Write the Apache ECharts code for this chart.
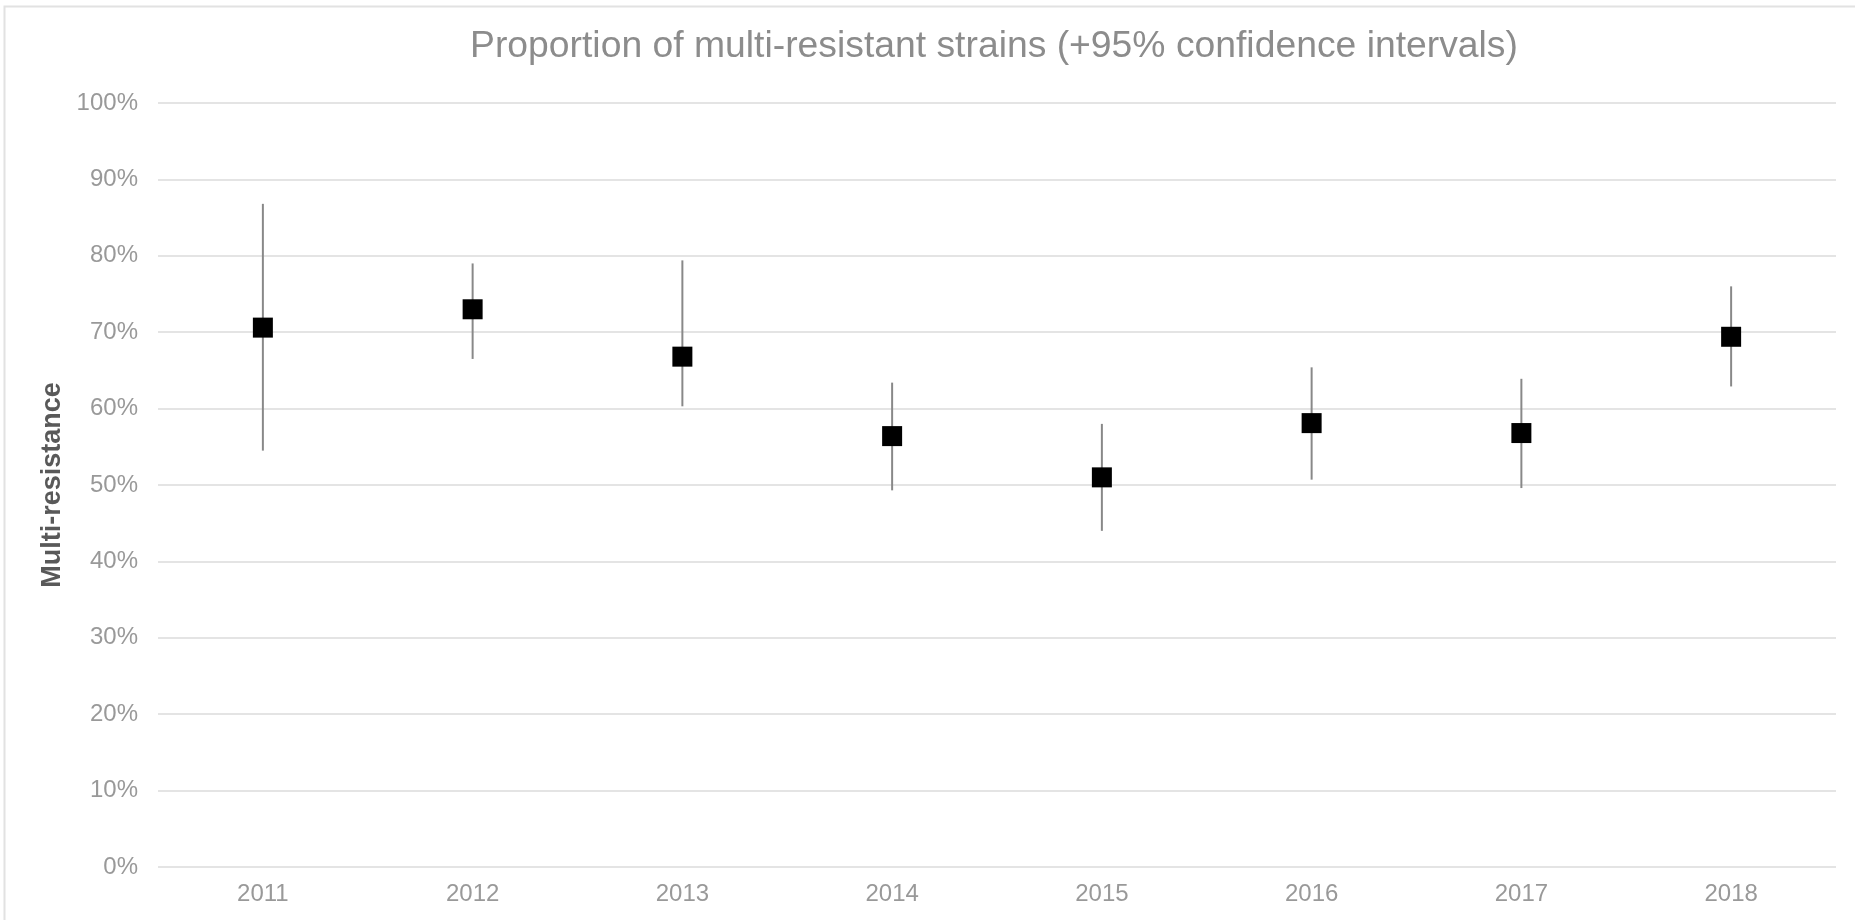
<!DOCTYPE html>
<html>
<head>
<meta charset="utf-8">
<title>Multi-resistance</title>
<script src="https://cdn.jsdelivr.net/npm/echarts@6/dist/echarts.min.js"></script>
<style>
  html, body { margin: 0; padding: 0; background: #ffffff; }
  #chart { width: 1855px; height: 920px; }
</style>
</head>
<body>
<div id="chart"></div>
<script>
// Survey years
const years = ['2011', '2012', '2013', '2014', '2015', '2016', '2017', '2018'];
// Share of multi-resistant strains (fraction)
const share = [0.706, 0.730, 0.668, 0.564, 0.510, 0.581, 0.568, 0.694];
// Lower / upper bounds of the 95% confidence interval
const lower = [0.545, 0.665, 0.603, 0.493, 0.440, 0.507, 0.496, 0.629];
const upper = [0.868, 0.790, 0.794, 0.634, 0.580, 0.654, 0.639, 0.760];
// Value-axis tick values
const yTicks = [0, 0.1, 0.2, 0.3, 0.4, 0.5, 0.6, 0.7, 0.8, 0.9, 1.0];

const FONT = '"Liberation Sans", Arial, sans-serif';

const chart = echarts.init(document.getElementById('chart'), null, { renderer: 'canvas' });

const intervalData = years.map((y, i) => [i, lower[i], upper[i]]);

chart.setOption({
  backgroundColor: '#ffffff',
  animation: false,
  title: {
    text: 'Proportion of multi-resistant strains (+95% confidence intervals)',
    left: 989,
    textAlign: 'center',
    top: 23,
    textStyle: { fontFamily: FONT, fontSize: 37.3, fontWeight: 'normal', color: '#8c8c8c' }
  },
  graphic: [{
    type: 'rect',
    silent: true,
    shape: { x: 4.5, y: 6.5, width: 1900, height: 1000 },
    style: { fill: 'none', stroke: '#e2e2e2', lineWidth: 2 },
    z: -1
  }],
  grid: { left: 158, right: 19, top: 103, bottom: 53, containLabel: false },
  xAxis: {
    type: 'category',
    data: years,
    boundaryGap: true,
    axisLine: { show: false },
    axisTick: { show: false },
    axisLabel: { fontFamily: FONT, fontSize: 24, color: '#999999', margin: 15 },
    splitLine: { show: false }
  },
  yAxis: {
    type: 'value',
    min: yTicks[0],
    max: yTicks[yTicks.length - 1],
    interval: yTicks[1] - yTicks[0],
    name: 'Multi-resistance',
    nameLocation: 'middle',
    nameGap: 85,
    nameTextStyle: { fontFamily: FONT, fontSize: 27, fontWeight: 'bold', color: '#595959' },
    axisLine: { show: false },
    axisTick: { show: false },
    axisLabel: {
      fontFamily: FONT, fontSize: 24, color: '#999999', margin: 20,
      formatter: v => Math.round(v * 100) + '%'
    },
    splitLine: { show: true, lineStyle: { color: '#e4e4e4', width: 2 } }
  },
  series: [
    {
      name: '95% CI',
      type: 'custom',
      data: intervalData,
      z: 2,
      renderItem: function (params, api) {
        const x = api.value(0);
        const p1 = api.coord([x, api.value(1)]);
        const p2 = api.coord([x, api.value(2)]);
        return {
          type: 'line',
          shape: { x1: p1[0], y1: p1[1], x2: p2[0], y2: p2[1] },
          style: { stroke: '#888888', lineWidth: 2 }
        };
      },
      encode: { x: 0, y: [1, 2] }
    },
    {
      name: 'Multi-resistance',
      type: 'scatter',
      data: share,
      symbol: 'rect',
      symbolSize: 20,
      z: 3,
      itemStyle: { color: '#000000', opacity: 1 }
    }
  ]
});
</script>
</body>
</html>
